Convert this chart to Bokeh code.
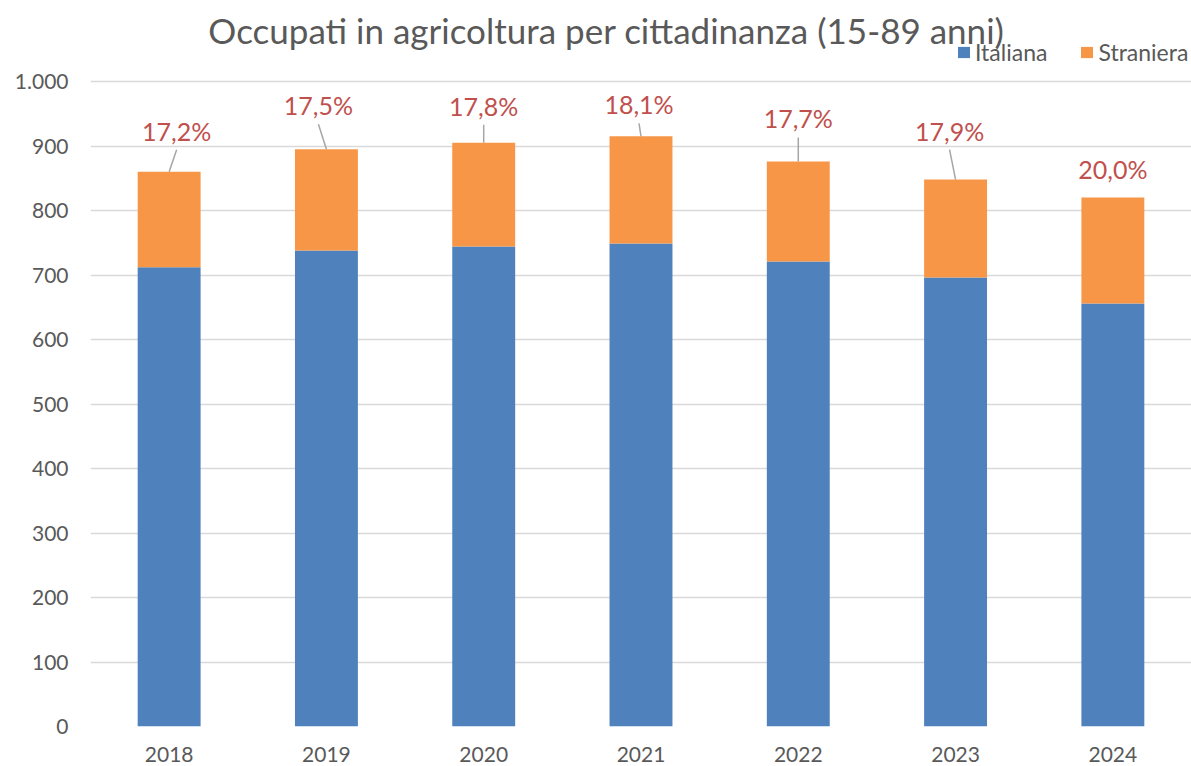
from bokeh.plotting import figure
from bokeh.models import (Range1d, FixedTicker, ColumnDataSource, Legend, LegendItem, Label)
from bokeh.embed import file_html
from bokeh.resources import INLINE
from bokeh.core.properties import value

# ---- data ----
years = ["2018", "2019", "2020", "2021", "2022", "2023", "2024"]
italiana = [712, 738, 744, 749, 721, 696, 656]
straniera = [148, 157, 161, 166, 155, 152, 164]
pct_labels = ["17,2%", "17,5%", "17,8%", "18,1%", "17,7%", "17,9%", "20,0%"]
y_ticks = [0, 100, 200, 300, 400, 500, 600, 700, 800, 900, 1000]
y_tick_labels = ["0", "100", "200", "300", "400", "500", "600", "700", "800", "900", "1.000"]

# ---- label layout (screen px) ----
lab_up_px = [41, 44, 37, 32, 43, 49, 29]
lab_dx_px = [7.5, -8, 0, -2, 0, -6, 0]
has_leader = [True, True, True, True, True, True, False]

W, H = 1191, 766
BL, BR, BT, BB = 90, 0, 0, 40
frame_w = W - BL - BR
frame_h = H - BT - BB
AXIS_TOP_PX = 81            # pixel row of the 1.000 gridline
FONT = "Lato"
GREY = "#595959"
y_max = 1000.0 * frame_h / (frame_h - AXIS_TOP_PX)

p = figure(width=W, height=H, output_backend="svg", toolbar_location=None,
           x_range=Range1d(0.5, len(years) + 0.5), y_range=Range1d(0, y_max),
           min_border_left=BL, min_border_right=BR, min_border_top=BT,
           min_border_bottom=BB, outline_line_color=None)

xs = list(range(1, len(years) + 1))
totals = [a + b for a, b in zip(italiana, straniera)]
src = ColumnDataSource(dict(x=xs, it=italiana, st=straniera, tot=totals))

r_it = p.vbar(x="x", bottom=0, top="it", width=0.4, source=src,
              fill_color="#4F81BD", line_color=None)
r_st = p.vbar(x="x", bottom="it", top="tot", width=0.4, source=src,
              fill_color="#F79646", line_color=None)

ky = y_max / frame_h
kx = len(years) / frame_w
lx = [x + dx * kx for x, dx in zip(xs, lab_dx_px)]
ly = [t + up * ky for t, up in zip(totals, lab_up_px)]
p.text(x=lx, y=ly, text=pct_labels, text_align="center", text_baseline="middle",
       text_font=value(FONT), text_font_size="25px", text_color="#C0504D")

sx0, sy0, sx1, sy1 = [], [], [], []
for i in range(len(years)):
    if has_leader[i]:
        sx0.append(lx[i]); sy0.append(totals[i] + (lab_up_px[i] - 19) * ky)
        sx1.append(xs[i]); sy1.append(totals[i])
p.segment(x0=sx0, y0=sy0, x1=sx1, y1=sy1, line_color="#A6A6A6", line_width=1.5)

# axes
p.xaxis.ticker = FixedTicker(ticks=xs)
p.xaxis.major_label_overrides = {x: y for x, y in zip(xs, years)}
p.yaxis.ticker = FixedTicker(ticks=y_ticks)
p.yaxis.major_label_overrides = {t: l for t, l in zip(y_ticks, y_tick_labels)}
for ax in (p.xaxis[0], p.yaxis[0]):
    ax.axis_line_color = None
    ax.major_tick_line_color = None
    ax.minor_tick_line_color = None
    ax.major_label_text_font = FONT
    ax.major_label_text_font_size = "21px"
    ax.major_label_text_color = GREY
p.yaxis.major_label_standoff = 16
p.xaxis.major_label_standoff = 14

p.xgrid.grid_line_color = None
p.ygrid.grid_line_color = "#D9D9D9"
p.ygrid.grid_line_width = 1.5

# title
p.add_layout(Label(x=606 - BL, y=frame_h - 29, x_units="screen", y_units="screen",
                   text="Occupati in agricoltura per cittadinanza (15-89 anni)",
                   text_align="center", text_baseline="middle",
                   text_font=FONT, text_font_size="35px", text_color=GREY))

legend = Legend(items=[LegendItem(label="Italiana", renderers=[r_it]),
                       LegendItem(label="Straniera", renderers=[r_st])],
                orientation="horizontal", location=(956 - BL, frame_h - 66),
                glyph_width=15, glyph_height=14, label_standoff=4, spacing=32,
                padding=0, margin=0, border_line_color=None, background_fill_alpha=0,
                label_text_font=FONT, label_text_font_size="23px", label_text_color=GREY)
p.add_layout(legend, "center")

open("out.html", "w").write(file_html(p, INLINE))
